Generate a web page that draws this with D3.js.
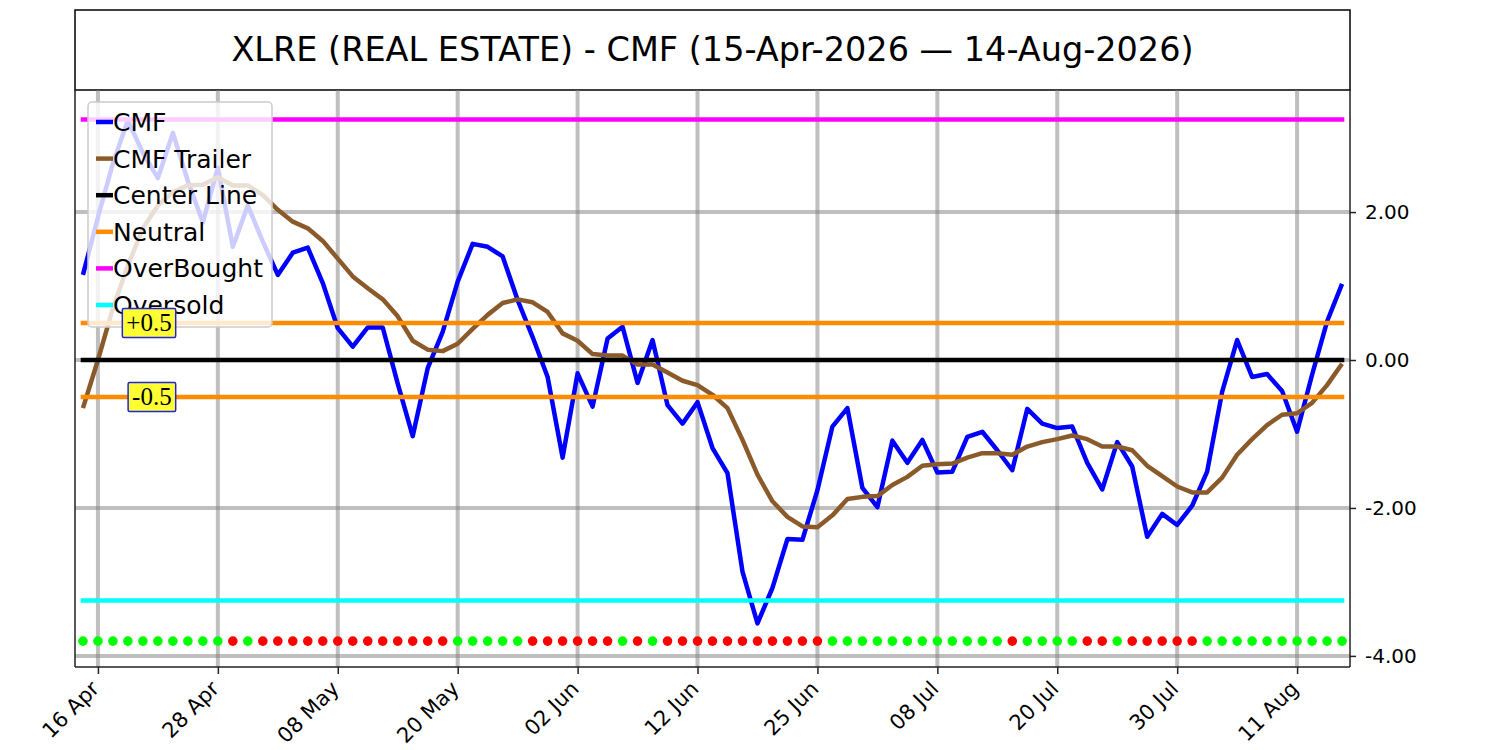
<!DOCTYPE html>
<html>
<head>
<meta charset="utf-8">
<script src="https://cdn.jsdelivr.net/npm/d3@7"></script>
<style>
  body { margin: 0; background: #fff; }
  svg { display: block; }
</style>
</head>
<body>
<script>
// values, one per trading day
const cmf = [1.15, 1.93, 2.66, 3.24, 2.80, 2.46, 3.07, 2.42, 1.86, 2.60,
  1.53, 2.09, 1.60, 1.15, 1.45, 1.52, 1.04, 0.43, 0.18, 0.44,
  0.44, -0.32, -1.03, -0.11, 0.38, 1.06, 1.57, 1.53, 1.40, 0.81,
  0.31, -0.23, -1.32, -0.18, -0.63, 0.29, 0.45, -0.31, 0.27, -0.61,
  -0.86, -0.57, -1.19, -1.53, -2.86, -3.56, -3.08, -2.42, -2.43, -1.76,
  -0.90, -0.65, -1.73, -1.99, -1.09, -1.39, -1.08, -1.52, -1.51, -1.04,
  -0.97, -1.22, -1.49, -0.66, -0.86, -0.92, -0.90, -1.39, -1.75, -1.11,
  -1.44, -2.39, -2.08, -2.23, -1.97, -1.51, -0.43, 0.27, -0.23, -0.19,
  -0.42, -0.97, -0.20, 0.52, 1.03];

const trailer = [-0.65, 0.00, 0.70, 1.28, 1.78, 2.09, 2.27, 2.36, 2.37, 2.47,
  2.36, 2.36, 2.23, 2.03, 1.87, 1.78, 1.61, 1.37, 1.13, 0.97,
  0.82, 0.59, 0.26, 0.14, 0.12, 0.22, 0.42, 0.61, 0.77, 0.82,
  0.78, 0.65, 0.36, 0.26, 0.08, 0.06, 0.06, -0.06, -0.06, -0.17,
  -0.28, -0.34, -0.47, -0.65, -1.08, -1.55, -1.91, -2.12, -2.25, -2.26,
  -2.10, -1.88, -1.85, -1.84, -1.69, -1.58, -1.43, -1.41, -1.40, -1.32,
  -1.26, -1.26, -1.28, -1.17, -1.11, -1.07, -1.02, -1.07, -1.17, -1.17,
  -1.22, -1.43, -1.57, -1.71, -1.79, -1.79, -1.59, -1.28, -1.07, -0.88,
  -0.74, -0.72, -0.58, -0.34, -0.05];

// g = green dot, r = red dot
const signal = ['g','g','g','g','g','g','g','g','g','g',
  'r','g','r','r','r','r','r','r','r','r',
  'r','r','r','r','r','g','g','g','g','g',
  'r','r','r','r','r','r','g','r','g','r',
  'r','r','r','r','r','r','r','r','r','r',
  'g','g','g','g','g','g','g','g','g','g',
  'g','g','r','g','g','g','g','r','r','g',
  'r','r','r','r','r','g','g','g','g','g',
  'g','g','g','g','g'];

const startDate = '2026-04-15';
const endDate = '2026-08-14';
const holidays = ['2026-05-25', '2026-06-19', '2026-07-03'];
const tickLabels = ['16 Apr', '28 Apr', '08 May', '20 May', '02 Jun', '12 Jun',
  '25 Jun', '08 Jul', '20 Jul', '30 Jul', '11 Aug'];
const yTicks = [2, 0, -2, -4];

const overBought = 3.25;
const overSold = -3.25;
const neutral = 0.5;
const centreLine = 0;
const dotLevel = -3.8;

const width = 1500;
const height = 750;
const mLeft = 75, mRight = 1350, mTop = 90, mBottom = 667;

const parse = d3.timeParse('%Y-%m-%d');
const fmt = d3.timeFormat('%d %b');
const key = d3.timeFormat('%Y-%m-%d');
const dates = d3.timeDay.range(parse(startDate), d3.timeDay.offset(parse(endDate), 1))
  .filter(d => d.getDay() !== 0 && d.getDay() !== 6 && !holidays.includes(key(d)));

const n = cmf.length;

let svg = d3.select('body')
  .append('svg')
  .attr('width', width)
  .attr('height', height)
  .style('font-family', '"DejaVu Sans", sans-serif');

let x = d3.scaleLinear()
  .domain([-0.53, n - 1 + 0.53])
  .range([mLeft, mRight]);

let y = d3.scaleLinear()
  .domain([-4.15, 3.65])
  .range([mBottom, mTop]);

let tickIdx = tickLabels.map(l => dates.findIndex(d => fmt(d) === l));

// title box
svg.append('rect')
  .attr('x', mLeft).attr('y', 10)
  .attr('width', mRight - mLeft).attr('height', mTop - 10)
  .attr('fill', 'none').attr('stroke', '#000').attr('stroke-width', 1.5);

svg.append('text')
  .attr('x', (mLeft + mRight) / 2).attr('y', 61)
  .attr('text-anchor', 'middle')
  .attr('font-size', 33.5)
  .text('XLRE (REAL ESTATE) - CMF (15-Apr-2026 \u2014 14-Aug-2026)');

let g = svg.append('g');

// grid
g.selectAll('.vgrid')
  .data(tickIdx)
  .enter().append('line')
  .attr('x1', d => x(d)).attr('x2', d => x(d))
  .attr('y1', mTop).attr('y2', mBottom)
  .attr('stroke', '#808080').attr('stroke-opacity', 0.5).attr('stroke-width', 4);

g.selectAll('.hgrid')
  .data(yTicks)
  .enter().append('line')
  .attr('x1', mLeft).attr('x2', mRight)
  .attr('y1', d => y(d)).attr('y2', d => y(d))
  .attr('stroke', '#808080').attr('stroke-opacity', 0.5).attr('stroke-width', 4);

// signal dots
g.selectAll('.dot')
  .data(signal)
  .enter().append('circle')
  .attr('cx', (d, i) => x(i))
  .attr('cy', y(dotLevel))
  .attr('r', 4.8)
  .attr('fill', d => d === 'g' ? '#00ff00' : '#ff0000');

let line = d3.line()
  .x((d, i) => x(i))
  .y(d => y(d));

g.append('path')
  .datum(cmf)
  .attr('d', line)
  .attr('fill', 'none').attr('stroke', '#0000ff').attr('stroke-width', 4.5)
  .attr('stroke-linejoin', 'round');

g.append('path')
  .datum(trailer)
  .attr('d', line)
  .attr('fill', 'none').attr('stroke', '#8b5a2b').attr('stroke-width', 4.5)
  .attr('stroke-linejoin', 'round');

// level lines
let levels = [
  { v: centreLine, c: '#000000' },
  { v: neutral, c: '#ff8c00' },
  { v: -neutral, c: '#ff8c00' },
  { v: overBought, c: '#ff00ff' },
  { v: overSold, c: '#00ffff' }
];

g.selectAll('.level')
  .data(levels)
  .enter().append('line')
  .attr('x1', x(0)).attr('x2', x(n - 1))
  .attr('y1', d => y(d.v)).attr('y2', d => y(d.v))
  .attr('stroke', d => d.c).attr('stroke-width', 4.5)
  .attr('stroke-linecap', 'square');

// frame
svg.append('line').attr('x1', mLeft).attr('x2', mLeft).attr('y1', mTop).attr('y2', mBottom)
  .attr('stroke', '#222').attr('stroke-width', 1.5);
svg.append('line').attr('x1', mRight).attr('x2', mRight).attr('y1', mTop).attr('y2', mBottom)
  .attr('stroke', '#222').attr('stroke-width', 1.5);

// axes
let xAxis = d3.axisBottom(x)
  .tickValues(tickIdx)
  .tickFormat((d, i) => tickLabels[i])
  .tickSize(7)
  .tickSizeOuter(0);

let gx = svg.append('g')
  .attr('transform', `translate(0,${mBottom})`)
  .call(xAxis);
gx.select('.domain').attr('stroke', '#222').attr('stroke-width', 1.5)
  .attr('d', `M${mLeft},0H${mRight}`);
gx.selectAll('.tick line').attr('stroke', '#222').attr('stroke-width', 1.5);
gx.selectAll('.tick text')
  .attr('font-size', 21)
  .attr('font-family', '"DejaVu Sans", sans-serif')
  .attr('fill', '#000')
  .attr('text-anchor', 'end')
  .attr('x', 0).attr('y', 0).attr('dy', 0)
  .attr('transform', 'translate(2,23) rotate(-45)');

let yAxis = d3.axisRight(y)
  .tickValues(yTicks)
  .tickFormat(d => d3.format('.2f')(d).replace('\u2212', '-'))
  .tickSize(6)
  .tickSizeOuter(0);

let gy = svg.append('g')
  .attr('transform', `translate(${mRight},0)`)
  .call(yAxis);
gy.select('.domain').remove();
gy.selectAll('.tick line').attr('stroke', '#222').attr('stroke-width', 1.5);
gy.selectAll('.tick text')
  .attr('font-size', 20)
  .attr('font-family', '"DejaVu Sans", sans-serif')
  .attr('fill', '#000')
  .attr('x', 15);

// legend
let legendItems = [
  { t: 'CMF', c: '#0000ff' },
  { t: 'CMF Trailer', c: '#8b5a2b' },
  { t: 'Center Line', c: '#000000' },
  { t: 'Neutral', c: '#ff8c00' },
  { t: 'OverBought', c: '#ff00ff' },
  { t: 'Oversold', c: '#00ffff' }
];

let lg = svg.append('g').attr('transform', 'translate(88,102)');
lg.append('rect')
  .attr('width', 184).attr('height', 225).attr('rx', 4)
  .attr('fill', '#fff').attr('fill-opacity', 0.8)
  .attr('stroke', '#cccccc').attr('stroke-width', 1.5);

let li = lg.selectAll('.item')
  .data(legendItems)
  .enter().append('g')
  .attr('transform', (d, i) => `translate(0,${20 + i * 36.6})`);
li.append('line')
  .attr('x1', 8).attr('x2', 25)
  .attr('stroke', d => d.c).attr('stroke-width', 4.5);
li.append('text')
  .attr('x', 25).attr('dy', '0.36em')
  .attr('font-size', 25)
  .text(d => d.t);

// annotations for neutral band, drawn above the legend
let notes = [
  { v: neutral, t: '+0.5' },
  { v: -neutral, t: '-0.5' }
];
notes.forEach(nt => {
  let ga = svg.append('g');
  let tx = ga.append('text')
    .attr('x', x(5.92)).attr('y', y(nt.v))
    .attr('dy', '0.33em')
    .attr('text-anchor', 'end')
    .attr('font-family', '"Liberation Serif", "Times New Roman", serif')
    .attr('font-size', 25)
    .text(nt.t);
  let b = tx.node().getBBox();
  ga.insert('rect', 'text')
    .attr('x', b.x - 4).attr('y', y(nt.v) - 14.5)
    .attr('width', b.width + 8).attr('height', 29)
    .attr('rx', 1.5)
    .attr('fill', '#ffff33').attr('stroke', '#2222dd').attr('stroke-width', 1.5);
});
</script>
</body>
</html>
